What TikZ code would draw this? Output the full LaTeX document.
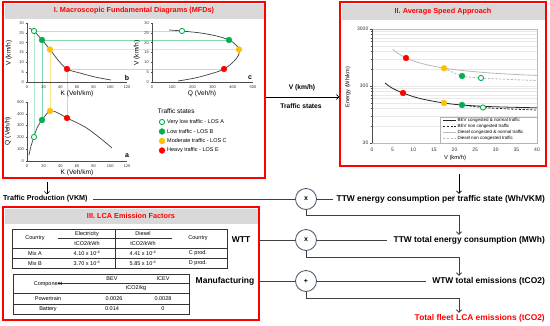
\documentclass[tikz,border=0pt]{standalone}
\usepackage{fontspec}
\setmainfont{Liberation Sans}
\usetikzlibrary{arrows.meta,calc}
\definecolor{losG}{RGB}{0,176,80}
\definecolor{losY}{RGB}{255,192,0}
\definecolor{losR}{RGB}{255,0,0}
\definecolor{bandgray}{RGB}{217,217,217}
\definecolor{conn}{RGB}{64,64,64}
\definecolor{circ}{RGB}{68,84,106}
\newcommand{\myfs}[1]{\fontsize{#1pt}{#1pt}\selectfont}
\tikzset{
  panel/.style={draw=red, line width=1.3pt, inner sep=0pt},
  ttl/.style={text=red, font=\bfseries\myfs{7.3}, inner sep=0.5pt},
  lbl/.style={font=\bfseries\myfs{8.4}, inner sep=1pt},
  mlbl/.style={font=\bfseries\myfs{6.7}, inner sep=1pt},
  op/.style={circle, draw=circ, fill=white, line width=0.8pt, minimum size=21pt, inner sep=0pt, font=\bfseries\myfs{7}},
  tk/.style={font=\myfs{4}, text=black!80, inner sep=0.5pt},
  tkk/.style={font=\myfs{5}, text=black!80, inner sep=0.5pt},
  axt/.style={font=\myfs{6.6}, inner sep=0.5pt},
  ax/.style={draw=gray!60!black, line width=0.4pt},
  crv/.style={draw=conn, line width=0.7pt},
  ptO/.style={circle, draw=losG, fill=white, line width=0.9pt, minimum size=5.2pt, inner sep=0pt},
  ptG/.style={circle, draw=losG, fill=losG, minimum size=5.8pt, inner sep=0pt},
  ptY/.style={circle, draw=losY, fill=losY, minimum size=5.8pt, inner sep=0pt},
  ptR/.style={circle, draw=losR, fill=losR, minimum size=5.8pt, inner sep=0pt},
  arr/.style={-{Straight Barb[length=2.6pt,width=5pt]}},
  cn/.style={draw=conn, line width=0.8pt},
  lgtxt/.style={font=\myfs{5.5}, inner sep=0.5pt},
  tab/.style={draw=gray!40!black, line width=0.45pt},
  tabt/.style={font=\myfs{5.5}, inner sep=0.5pt},
  grd/.style={draw=gray!18, line width=0.4pt},
  legt/.style={font=\myfs{4.5}, inner sep=0.3pt, anchor=west}
}
\begin{document}
\begin{tikzpicture}[x=1pt,y=-1pt]
\useasboundingbox (0,0) rectangle (550,325);
\fill[white] (0,0) rectangle (550,325);

% ---------------- title bands
\fill[bandgray] (4.5,3.5) rectangle (263.5,18.5);
\fill[bandgray] (341.5,3.5) rectangle (544.5,19.5);
\fill[bandgray] (4.5,208.5) rectangle (257.5,223.5);

% ---------------- panels
\node[panel, minimum width=262pt, minimum height=176pt] (p1) at (134,90) {};
\node[panel, minimum width=206pt, minimum height=164pt] (p2) at (443,84) {};
\node[panel, minimum width=256pt, minimum height=113pt] (p3) at (131,263.5) {};
\node[ttl] (t1) at (134,11) {I. Macroscopic Fundamental Diagrams (MFDs)};
\node[ttl] (t2) at (443,11.5) {II. Average Speed Approach};
\node[ttl] (t3) at (131,216) {III. LCA Emission Factors};

% ---------------- panel I guides
\draw[losG!30, line width=0.6pt] (34,31) -- (182,31);
\draw[losG!30, line width=0.6pt] (34,31) -- (34,137);
\draw[losG!50, line width=0.6pt] (42,40) -- (229,40);
\draw[losG!50, line width=0.6pt] (42,40) -- (42,120);
\draw[losY!45, line width=0.6pt] (50,49.5) -- (239,49.5);
\draw[losY!45, line width=0.6pt] (50,49.5) -- (50,111);
\draw[losR!25, line width=0.6pt] (67,69) -- (224,69);
\draw[losR!25, line width=0.6pt] (67,69) -- (67,118);

% ---------------- plot b (V-K)
\draw[ax] (27,23) -- (27,82) -- (127,82);
\foreach \v in {0,5,...,30} {
  \draw[ax] (25.5,{82-1.967*\v}) -- (27,{82-1.967*\v});
  \node[tk, anchor=east] (by\v) at (24.5,{82-1.967*\v}) {\v};
}
\foreach \k in {0,20,...,120} {
  \node[tk] (bx\k) at ({27+0.833*\k},87.5) {\k};
}
\node[axt] (bxl) at (77,94) {K (Veh/km)};
\node[axt, rotate=90] (byl) at (9,53) {V (km/h)};
\draw[crv] plot[smooth, tension=0.6] coordinates {(29,28) (34,31) (42,40) (50,49.5) (58,60) (67,69) (80,73) (95,77) (111,80)};
\node[font=\bfseries\myfs{7}, inner sep=0pt] (lb) at (127,77.5) {b};

% ---------------- plot c (V-Q)
\draw[ax] (152,23) -- (152,82) -- (253,82);
\foreach \v in {0,5,...,30} {
  \draw[ax] (150.5,{82-1.967*\v}) -- (152,{82-1.967*\v});
  \node[tk, anchor=east] (cy\v) at (149.5,{82-1.967*\v}) {\v};
}
\foreach \q in {0,100,...,500} {
  \node[tk] (cx\q) at ({152+0.202*\q},87.5) {\q};
}
\node[axt] (cxl) at (202,94) {Q (Veh/h)};
\node[axt, rotate=90] (cyl) at (137,53) {V (km/h)};
\draw[crv] plot[smooth, tension=0.6] coordinates {(169,30) (182,31) (207,34) (229,40) (239,49.5) (236,59) (224,69) (210,74) (195,78) (178,81)};
\node[font=\bfseries\myfs{7}, inner sep=0pt] (lc) at (250,77.5) {c};

% ---------------- plot a (Q-K)
\draw[ax] (27,102) -- (27,161) -- (127,161);
\foreach \q in {0,100,...,500} {
  \draw[ax] (25.5,{161-0.118*\q}) -- (27,{161-0.118*\q});
  \node[tk, anchor=east] (ay\q) at (24.5,{161-0.118*\q}) {\q};
}
\foreach \k in {0,20,...,120} {
  \node[tk] (ax\k) at ({27+0.833*\k},166.5) {\k};
}
\node[axt] (axl) at (77,173) {K (Veh/km)};
\node[axt, rotate=90] (ayl) at (8,131) {Q (Veh/h)};
\draw[crv] plot[smooth, tension=0.6] coordinates {(29,155) (31,146) (34,137) (37,128) (42,120) (50,111) (58,113) (67,118) (85,127) (100,138) (112,148)};
\node[font=\bfseries\myfs{7}, inner sep=0pt] (la) at (127,156) {a};

% ---------------- panel I points
\node[ptO] (bA) at (34,31) {};
\node[ptG] (bB) at (42,40) {};
\node[ptY] (bC) at (50,49.5) {};
\node[ptR] (bE) at (67,69) {};
\node[ptO] (cA) at (182,31) {};
\node[ptG] (cB) at (229,40) {};
\node[ptY] (cC) at (239,49.5) {};
\node[ptR] (cE) at (224,69) {};
\node[ptO] (aA) at (34,137) {};
\node[ptG] (aB) at (42,120) {};
\node[ptY] (aC) at (50,111) {};
\node[ptR] (aE) at (67,118) {};

% ---------------- panel I legend
\node[font=\myfs{6.5}, inner sep=0.5pt, anchor=west] (lgt) at (157,111) {Traffic states};
\node[ptO] (lg1) at (162,122) {};
\node[lgtxt, anchor=west] (lg1t) at (166.5,122) {Very low traffic - LOS A};
\node[ptG] (lg2) at (162,131.5) {};
\node[lgtxt, anchor=west] (lg2t) at (166.5,131.5) {Low traffic - LOS B};
\node[ptY] (lg3) at (162,141) {};
\node[lgtxt, anchor=west] (lg3t) at (166.5,141) {Moderate traffic - LOS C};
\node[ptR] (lg4) at (162,150.5) {};
\node[lgtxt, anchor=west] (lg4t) at (166.5,150.5) {Heavy traffic - LOS E};

% ---------------- panel II plot
\foreach \k in {2,...,9} {
  \draw[grd] (372,{143-57*log10(\k)}) -- (537,{143-57*log10(\k)});
  \draw[grd] (372,{86-57*log10(\k)}) -- (537,{86-57*log10(\k)});
  \draw[ax] (370.5,{143-57*log10(\k)}) -- (372,{143-57*log10(\k)});
  \draw[ax] (370.5,{86-57*log10(\k)}) -- (372,{86-57*log10(\k)});
}
\draw[grd] (372,86) -- (537,86);
\draw[draw=gray!55, line width=0.5pt] (372,29) rectangle (537,143);
\draw[ax] (372,29) -- (372,143);
\foreach \yy in {29,86,143} { \draw[ax] (369.5,\yy) -- (372,\yy); }
\node[tkk, anchor=east] (ey3000) at (369,29) {3000};
\node[tkk, anchor=east] (ey300) at (369,86) {300};
\node[tkk, anchor=east] (ey30) at (369,143) {30};
\foreach \s in {0,5,...,40} {
  \node[tkk] (ex\s) at ({372+4.125*\s},149.5) {\s};
}
\node[font=\myfs{5.8}, inner sep=0.5pt] (evl) at (455,158) {V (km/h)};
\node[font=\myfs{5.6}, inner sep=0.5pt, rotate=90] (eyl) at (348,87) {Energy (Wh/km)};
% diesel
\draw[draw=gray!55, line width=0.8pt] plot[domain=5:40, samples=40, smooth] ({372+4.125*\x},{143-57*log10((336+4943/\x)/30)});
\draw[draw=gray!55, line width=0.8pt, dash pattern=on 2.2pt off 1.6pt] plot[smooth] coordinates {(444,68.3) (462,76) (481,78) (510,79.5) (537,80.5)};
% BEV
\draw[draw=black!85, line width=0.8pt] plot[smooth, tension=0.6] coordinates {(385,83) (392,88) (403,93) (420,98.5) (444,103) (462,105) (483,106.3) (510,107.2) (537,107.8)};
\draw[draw=black!85, line width=0.8pt, dash pattern=on 2.2pt off 1.6pt] plot[smooth] coordinates {(462,105) (483,107.5) (510,109) (537,110)};
\node[ptR] (dE) at (406,58) {};
\node[ptY] (dC) at (444,68.3) {};
\node[ptG] (dB) at (462,76) {};
\node[ptO] (dA) at (481,78) {};
\node[ptR] (eE) at (403,93) {};
\node[ptY] (eC) at (444,103) {};
\node[ptG] (eB) at (462,105) {};
\node[ptO] (eA) at (483,107.5) {};
% legend
\draw[draw=gray!60, fill=white, line width=0.5pt] (440,117) rectangle (537,143);
\draw[draw=black!85, line width=0.8pt] (443,120.5) -- (456,120.5);
\node[legt] (lgb1) at (457,120.5) {BEV congested \& normal traffic};
\draw[draw=black!85, line width=0.8pt, dash pattern=on 2.2pt off 1.6pt] (443,126.3) -- (456,126.3);
\node[legt] (lgb2) at (457,126.3) {BEV non congested traffic};
\draw[draw=gray!55, line width=0.8pt] (443,132.1) -- (456,132.1);
\node[legt] (lgd1) at (457,132.1) {Diesel congested \& normal traffic};
\draw[draw=gray!55, line width=0.8pt, dash pattern=on 2.2pt off 1.6pt] (443,137.9) -- (456,137.9);
\node[legt] (lgd2) at (457,137.9) {Diesel non congested traffic};

% ---------------- link between panels I and II
\coordinate (vy) at (0,97);
\draw[draw=black, line width=0.6pt, arr] (p1.east |- vy) -- (p2.west |- vy);
\node[mlbl] (vkm) at (302,88) {V (km/h)};
\node[mlbl] (tst) at (301,106) {Traffic states};

% ---------------- panel III tables
\draw[tab, line width=0.7pt] (12,229) rectangle (227,268);
\draw[tab] (12,248) -- (227,248);
\draw[tab] (12,258.5) -- (227,258.5);
\draw[tab] (58,238.5) -- (172,238.5);
\draw[tab] (115,229) -- (115,268);
\node[tabt] (h1) at (35,238.5) {Country};
\node[tabt] (h2) at (87,234) {Electricity};
\node[tabt] (h3) at (87,243.5) {tCO2/kWh};
\node[tabt] (h4) at (143,234) {Diesel};
\node[tabt] (h5) at (143,243.5) {tCO2/kWh};
\node[tabt] (h6) at (198,238.5) {Country};
\node[tabt] (r11) at (35,253.5) {Mix A};
\node[tabt] (r12) at (87,253.5) {4.10 x 10\textsuperscript{-4}};
\node[tabt] (r13) at (143,253.5) {4.41 x 10\textsuperscript{-4}};
\node[tabt] (r14) at (198,253.5) {C prod.};
\node[tabt] (r21) at (35,263.5) {Mix B};
\node[tabt] (r22) at (87,263.5) {3.70 x 10\textsuperscript{-4}};
\node[tabt] (r23) at (143,263.5) {5.85 x 10\textsuperscript{-4}};
\node[tabt] (r24) at (198,263.5) {D prod.};

\draw[tab, line width=0.7pt] (13,274) rectangle (189,314);
\draw[tab] (58,283) -- (189,283);
\draw[tab] (13,293.5) -- (189,293.5);
\draw[tab] (13,304) -- (189,304);
\node[tabt] (k1) at (48,284) {Component};
\node[tabt] (k2) at (112,278.8) {BEV};
\node[tabt] (k3) at (163,278.8) {ICEV};
\node[tabt] (k4) at (136,288.5) {tCO2/kg};
\node[tabt] (k5) at (48,299) {Powertrain};
\node[tabt] (k6) at (114,299) {0.0026};
\node[tabt] (k7) at (163,299) {0.0028};
\node[tabt] (k8) at (48,309) {Battery};
\node[tabt] (k9) at (112,309) {0.014};
\node[tabt] (k10) at (163,309) {0};
\node[font=\bfseries\myfs{8.5}, inner sep=0.5pt] (wtt) at (241,240) {WTT};
\node[font=\bfseries\myfs{8.5}, inner sep=0.5pt] (mfg) at (225,281) {Manufacturing};

% ---------------- flow on the right
\node[font=\bfseries\myfs{7.2}, inner sep=1pt, anchor=west] (tp) at (2,199) {Traffic Production (VKM)};
\node[op] (c1) at (306,199) {x};
\node[op] (c2) at (306,240) {x};
\node[op] (c3) at (306,281) {+};
\node[lbl, anchor=east] (ttw1) at (546,199) {TTW energy consumption per traffic state (Wh/VKM)};
\node[lbl, anchor=east] (ttw2) at (546,240) {TTW total energy consumption (MWh)};
\node[lbl, anchor=east] (wtw) at (546,281) {WTW total emissions (tCO2)};
\node[lbl, anchor=east, text=red] (tot) at (546,318) {Total fleet LCA emissions (tCO2)};

\coordinate (a1s) at (47,182);
\draw[draw=black, line width=0.6pt, arr] (a1s) -- (a1s |- tp.north);
\coordinate (a2s) at (459,174);
\draw[draw=black, line width=0.6pt, arr] (a2s) -- (a2s |- ttw1.north);

\draw[cn, shorten <=4pt] (tp.east) -- (c1.west);
\draw[cn, shorten >=2pt] (c1.east) -- (ttw1.west);
\coordinate (k1c) at (459,215);
\draw[cn, arr] (c1.south) |- (k1c) -- (k1c |- ttw2.north);

\coordinate (w2) at (p3.east |- c2);
\draw[cn] (w2) -- (c2.west);
\draw[cn, shorten >=5pt] (c2.east) -- (ttw2.west);
\coordinate (k2c) at (459,257);
\draw[cn, arr] (c2.south) |- (k2c) -- (k2c |- wtw.north);

\coordinate (w3) at (p3.east |- c3);
\draw[cn] (w3) -- (c3.west);
\draw[cn, shorten >=5pt] (c3.east) -- (wtw.west);
\coordinate (k3c) at (459,298);
\draw[cn, arr] (c3.south) |- (k3c) -- (k3c |- tot.north);
\end{tikzpicture}
\end{document}
